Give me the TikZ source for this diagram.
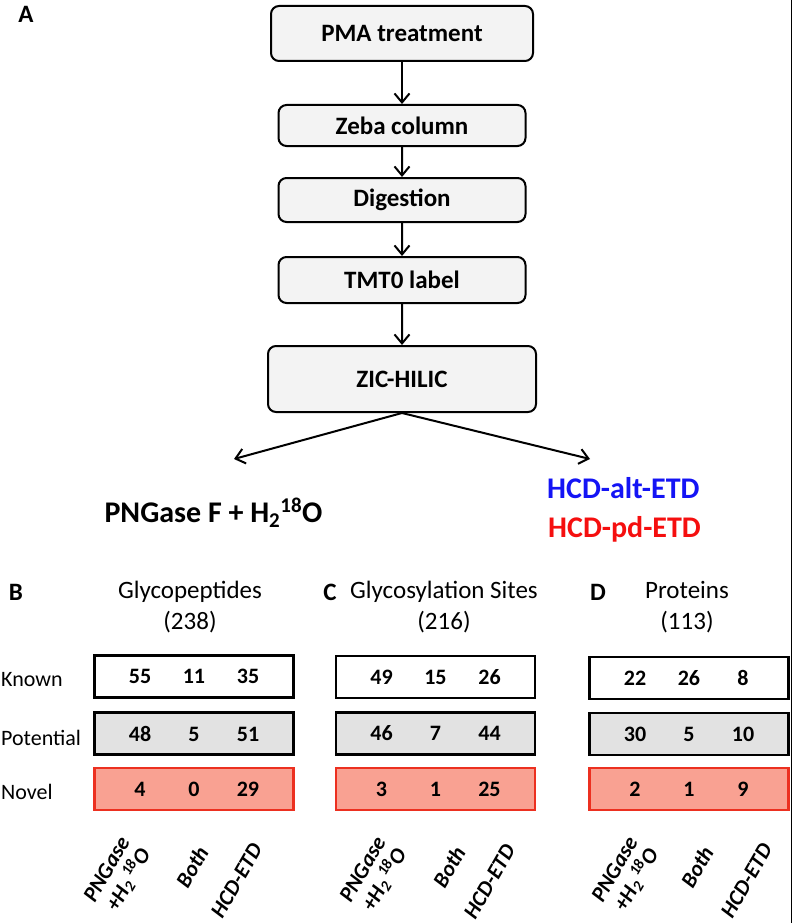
\documentclass[tikz,border=0pt]{standalone}
\usepackage{fontspec}
\setmainfont{Carlito}
\usepackage{tikz}
\usetikzlibrary{arrows.meta}
\definecolor{boxgray}{RGB}{243,243,243}
\definecolor{potgray}{RGB}{226,226,226}
\definecolor{novelfill}{RGB}{249,161,146}
\definecolor{novelline}{RGB}{236,48,32}
\definecolor{altblue}{RGB}{20,20,245}
\definecolor{pdred}{RGB}{245,15,15}

\begin{document}
\begin{tikzpicture}[
        x=1pt, y=-1pt,
        flowbox/.style = {draw, rounded corners=8pt, fill=boxgray, line width=2pt,
                          minimum width=247pt, inner sep=0pt,
                          font=\fontsize{25}{30}\selectfont\bfseries},
        edge from parent/.style = {draw, line width=2pt, -{Straight Barb[length=9pt,width=15pt]}},
        flowarrow/.style = {line width=2pt, -{Straight Barb[length=9pt,width=15pt]}},
        level 1/.style = {level distance=92pt},
        level 2/.style = {level distance=74.5pt},
        level 3/.style = {level distance=80pt},
        level 4/.style = {level distance=99pt},
        panel/.style = {inner sep=0pt, font=\fontsize{25}{30}\selectfont\bfseries},
        heading/.style = {align=center, inner sep=0pt, font=\fontsize{25}{31}\selectfont},
        rowname/.style = {anchor=west, inner sep=0pt, font=\fontsize{22}{26}\selectfont},
        tablerow/.style = {draw, line width=2.6pt, minimum width=199pt, minimum height=42pt},
        known/.style = {tablerow, fill=white},
        potential/.style = {tablerow, fill=potgray},
        novel/.style = {tablerow, draw=novelline, fill=novelfill},
        counts/.style n args = {3}{label={[inner sep=0pt, font=\fontsize{22}{26}\selectfont\bfseries]center:\makebox[54pt]{#1}\makebox[54pt]{#2}\makebox[54pt]{#3}}},
        colname/.style = {rotate=60, anchor=east, align=right, inner sep=0pt,
                          font=\fontsize{22}{24}\selectfont\bfseries\itshape},
      ]
      \useasboundingbox (0,0) rectangle (793,923);

      % A: workflow
      \node[panel] (lbla) at (26,14) {A};
      \node[flowbox, minimum width=262pt, minimum height=55pt] (pma) at (402,33.5) {PMA treatment}
        child {node[flowbox, minimum height=41pt] (zeba) {Zeba column}
          child {node[flowbox, minimum height=44pt] (digest) {Digestion}
            child {node[flowbox, minimum height=46pt] (tmt) {TMT0 label}
              child {node[flowbox, minimum width=268pt, minimum height=66pt] (zic) {ZIC-HILIC}}}}};

      \coordinate (pngend) at (234,459);
      \coordinate (hcdend) at (590,459);
      \draw[flowarrow] (zic.south) -- (pngend);
      \draw[flowarrow] (zic.south) -- (hcdend);

      \node[anchor=base, inner sep=0pt, font=\fontsize{30}{36}\selectfont\bfseries] (pngase) at (213.5,522)
        {PNGase F + H\textsubscript{2}\textsuperscript{18}O};
      \node[anchor=base west, inner sep=0pt, text=altblue, font=\fontsize{30}{36}\selectfont\bfseries] (altetd) at (547,498) {HCD-alt-ETD};
      \node[anchor=base west, inner sep=0pt, text=pdred, font=\fontsize{30}{36}\selectfont\bfseries] (pdetd) at (548,537) {HCD-pd-ETD};

      % B, C, D: counts
      \node[panel] (lblb) at (16,592) {B};
      \node[panel] (lblc) at (330,592) {C};
      \node[panel] (lbld) at (598,592) {D};
      \node[heading] (bhead) at (190,607.5) {Glycopeptides\\(238)};
      \node[heading] (chead) at (444,607.5) {Glycosylation Sites\\(216)};
      \node[heading] (dhead) at (687,607.5) {Proteins\\(113)};

      \node[rowname] (rknown) at (1,680) {Known};
      \node[rowname] (rpot) at (1,738) {Potential};
      \node[rowname] (rnovel) at (1,792) {Novel};

      \node[known, counts={55}{11}{35}] (bknown) at (194,676.5) {};
      \node[potential, counts={48}{5}{51}] (bpot) at (194,733.5) {};
      \node[novel, counts={4}{0}{29}] (bnovel) at (194,789) {};
      \node[known, counts={49}{15}{26}] (cknown) at (435.5,677) {};
      \node[potential, counts={46}{7}{44}] (cpot) at (435.5,733.5) {};
      \node[novel, counts={3}{1}{25}] (cnovel) at (435.5,789) {};
      \node[known, counts={22}{26}{8}] (dknown) at (689,678) {};
      \node[potential, counts={30}{5}{10}] (dpot) at (689,734) {};
      \node[novel, counts={2}{1}{9}] (dnovel) at (689,789) {};

      \node[colname] (bpng) at (136,845) {PNGase\\+H\textsubscript{2}\,\textsuperscript{18}O};
      \node[colname] (bboth) at (203,848) {Both};
      \node[colname] (bhcd) at (257,845) {HCD-ETD};
      \node[colname] (cpng) at (392,845) {PNGase\\+H\textsubscript{2}\,\textsuperscript{18}O};
      \node[colname] (cboth) at (460,848) {Both};
      \node[colname] (chcd) at (510,846) {HCD-ETD};
      \node[colname] (dpng) at (644,845) {PNGase\\+H\textsubscript{2}\,\textsuperscript{18}O};
      \node[colname] (dboth) at (708,848) {Both};
      \node[colname] (dhcd) at (767,845) {HCD-ETD};

      \draw[line width=1.5pt] (791.5,0) -- (791.5,923);
    \end{tikzpicture}
\end{document}
